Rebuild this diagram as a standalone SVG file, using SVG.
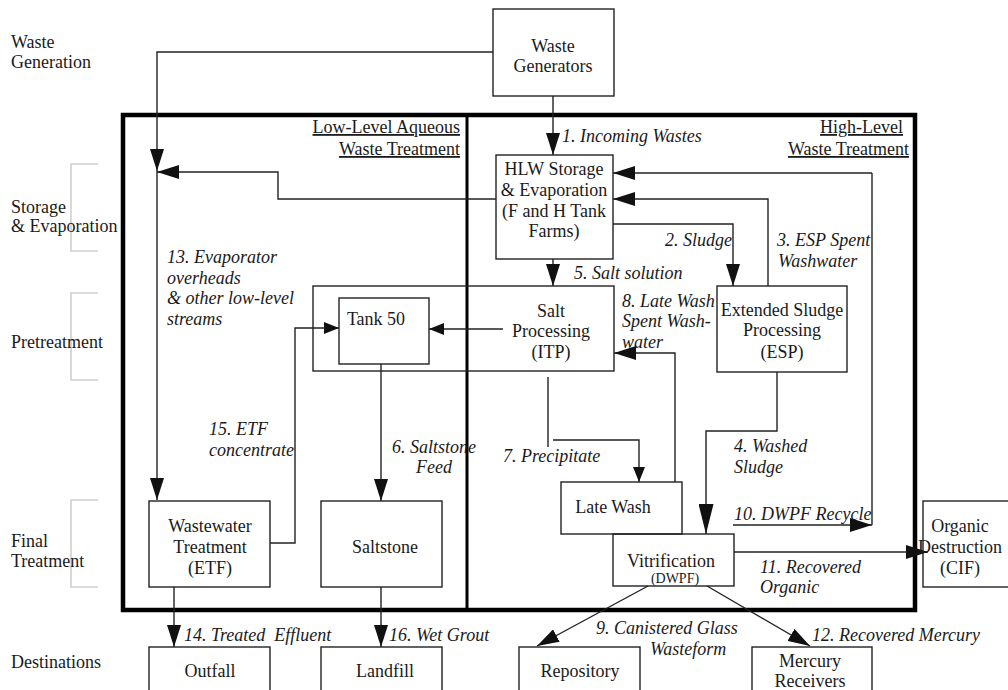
<svg xmlns="http://www.w3.org/2000/svg" width="1008" height="690" viewBox="0 0 1008 690">
<style>
text{font-family:'Liberation Serif',Tinos,'Times New Roman','DejaVu Serif',serif;font-size:18px;fill:#1a1a1a}
.c{text-anchor:middle}
.i{font-style:italic}
.u{text-decoration:underline;text-anchor:end}
.box{fill:none;stroke:#222;stroke-width:1.4}
.ln{fill:none;stroke:#222;stroke-width:1.4}
.br{fill:none;stroke:#cfcfcf;stroke-width:1.6}
</style>
<defs>
<marker id="a" markerUnits="userSpaceOnUse" markerWidth="22" markerHeight="14" viewBox="0 0 22 14" refX="22" refY="7" orient="auto"><path d="M0,0 L22,7 L0,14 z" fill="#111"/></marker>
<marker id="s" markerUnits="userSpaceOnUse" markerWidth="15" markerHeight="12" viewBox="0 0 15 12" refX="15" refY="6" orient="auto"><path d="M0,0 L15,6 L0,12 z" fill="#111"/></marker>
<marker id="b" markerUnits="userSpaceOnUse" markerWidth="30" markerHeight="15" viewBox="0 0 30 15" refX="30" refY="7.5" orient="auto"><path d="M0,0 L30,7.5 L0,15 z" fill="#111"/></marker>
</defs>
<rect width="1008" height="690" fill="#fff"/>

<g id="stages">
<text x="11" y="48">Waste</text>
<text x="11" y="68">Generation</text>
<path class="br" d="M98,164 H71 V251 H98"/>
<text x="11" y="213">Storage</text>
<text x="11" y="232">&amp; Evaporation</text>
<path class="br" d="M98,293 H71 V380 H98"/>
<text x="11" y="348">Pretreatment</text>
<path class="br" d="M98,500 H71 V587 H98"/>
<text x="11" y="547">Final</text>
<text x="11" y="567">Treatment</text>
<text x="11" y="668">Destinations</text>
</g>

<g id="frame">
<rect x="123" y="115" width="792" height="495" fill="none" stroke="#000" stroke-width="4.5"/>
<line x1="467" y1="115" x2="467" y2="610" stroke="#000" stroke-width="3"/>
<text class="u" x="460" y="133">Low-Level Aqueous</text>
<text class="u" x="460" y="155">Waste Treatment</text>
<text class="u" x="903" y="133">High-Level</text>
<text class="u" x="909" y="155">Waste Treatment</text>
</g>

<g id="connectors">
<path class="ln" d="M553,96 V155" marker-end="url(#a)"/>
<path class="ln" d="M493,52 H157 V171" marker-end="url(#a)"/>
<path class="ln" d="M157,171 V500" marker-end="url(#a)"/>
<path class="ln" d="M496,199 H278 V172 H157" marker-end="url(#a)"/>
<path class="ln" d="M872,173 H613" marker-end="url(#a)"/>
<path class="ln" d="M872,525 V173"/>
<path class="ln" d="M733,525 H872" marker-end="url(#a)"/>
<path class="ln" d="M768,286 V199 H613" marker-end="url(#a)"/>
<path class="ln" d="M613,224 H733 V286" marker-end="url(#a)"/>
<path class="ln" d="M553,259 V286" marker-end="url(#a)"/>
<path class="ln" d="M503,329 H429" marker-end="url(#s)"/>
<path class="ln" d="M270,543 H295 V328 H339" marker-end="url(#s)"/>
<path class="ln" d="M381,364 V501" marker-end="url(#a)"/>
<path class="ln" d="M548,377 V447"/>
<path class="ln" d="M553,440 H639 V482" marker-end="url(#s)"/>
<path class="ln" d="M675,482 V353 H614" marker-end="url(#a)"/>
<path class="ln" d="M777,372 V431 H706 V534" marker-end="url(#b)"/>
<path class="ln" d="M734,552 H928" marker-end="url(#a)"/>
<path class="ln" d="M648,586 L537,646" marker-end="url(#a)"/>
<path class="ln" d="M707,586 L810,646" marker-end="url(#a)"/>
<path class="ln" d="M174,587 V647" marker-end="url(#a)"/>
<path class="ln" d="M381,587 V647" marker-end="url(#a)"/>
</g>

<g id="labels">
<text class="i" x="562" y="142">1. Incoming Wastes</text>
<text class="i" x="665" y="246">2. Sludge</text>
<text class="i" x="777" y="246">3. ESP Spent</text>
<text class="i" x="778" y="267">Washwater</text>
<text class="i" x="734" y="452">4. Washed</text>
<text class="i" x="734" y="473">Sludge</text>
<text class="i" x="574" y="279">5. Salt solution</text>
<text class="i" x="392" y="453">6. Saltstone</text>
<text class="i" x="416" y="473">Feed</text>
<text class="i" x="503" y="462">7. Precipitate</text>
<text class="i" x="622" y="307">8. Late Wash</text>
<text class="i" x="622" y="327">Spent Wash-</text>
<text class="i" x="622" y="348">water</text>
<text class="i" x="596" y="634">9. Canistered Glass</text>
<text class="i" x="650" y="655">Wasteform</text>
<text class="i" x="734" y="520">10. DWPF Recycle</text>
<text class="i" x="760" y="573">11. Recovered</text>
<text class="i" x="760" y="593">Organic</text>
<text class="i" x="812" y="641">12. Recovered Mercury</text>
<text class="i" x="167" y="263">13. Evaporator</text>
<text class="i" x="167" y="284">overheads</text>
<text class="i" x="167" y="304">&amp; other low-level</text>
<text class="i" x="167" y="325">streams</text>
<text class="i" x="184" y="641" xml:space="preserve">14. Treated  Effluent</text>
<text class="i" x="209" y="435">15. ETF</text>
<text class="i" x="209" y="456">concentrate</text>
<text class="i" x="389" y="641">16. Wet Grout</text>
</g>

<g id="waste-generators">
<rect class="box" x="493" y="9" width="121" height="87"/>
<text class="c" x="553" y="52">Waste</text>
<text class="c" x="553" y="72">Generators</text>
</g>
<g id="hlw-storage">
<rect class="box" x="496" y="155" width="117" height="104"/>
<text class="c" x="554" y="175">HLW Storage</text>
<text class="c" x="554" y="196">&amp; Evaporation</text>
<text class="c" x="554" y="217">(F and H Tank</text>
<text class="c" x="554" y="237">Farms)</text>
</g>
<g id="salt-processing">
<rect class="box" x="313" y="286" width="301" height="85"/>
<text class="c" x="551" y="317">Salt</text>
<text class="c" x="551" y="337">Processing</text>
<text class="c" x="551" y="358">(ITP)</text>
</g>
<g id="tank-50">
<rect class="box" x="339" y="298" width="90" height="66"/>
<text class="c" x="376" y="325">Tank 50</text>
</g>
<g id="esp">
<rect class="box" x="717" y="286" width="130" height="86"/>
<text class="c" x="782" y="316">Extended Sludge</text>
<text class="c" x="782" y="336">Processing</text>
<text class="c" x="782" y="358">(ESP)</text>
</g>
<g id="etf">
<rect class="box" x="149" y="501" width="121" height="86"/>
<text class="c" x="210" y="532">Wastewater</text>
<text class="c" x="210" y="553">Treatment</text>
<text class="c" x="210" y="574">(ETF)</text>
</g>
<g id="saltstone">
<rect class="box" x="321" y="501" width="121" height="86"/>
<text class="c" x="385" y="553">Saltstone</text>
</g>
<g id="late-wash">
<rect class="box" x="561" y="482" width="121" height="52"/>
<text class="c" x="613" y="513">Late Wash</text>
</g>
<g id="vitrification">
<rect class="box" x="613" y="534" width="121" height="52"/>
<text class="c" x="671" y="567">Vitrification</text>
<text class="c" x="675" y="583" style="font-size:14px">(DWPF)</text>
</g>
<g id="organic-destruction">
<rect class="box" x="923" y="501" width="100" height="86"/>
<text class="c" x="960" y="532">Organic</text>
<text class="c" x="960" y="553">Destruction</text>
<text class="c" x="960" y="574">(CIF)</text>
</g>
<g id="outfall">
<rect class="box" x="149" y="647" width="121" height="60"/>
<text class="c" x="210" y="677">Outfall</text>
</g>
<g id="landfill">
<rect class="box" x="321" y="647" width="121" height="60"/>
<text class="c" x="385" y="677">Landfill</text>
</g>
<g id="repository">
<rect class="box" x="519" y="647" width="121" height="60"/>
<text class="c" x="580" y="677">Repository</text>
</g>
<g id="mercury-receivers">
<rect class="box" x="752" y="647" width="120" height="60"/>
<text class="c" x="810" y="667">Mercury</text>
<text class="c" x="810" y="687">Receivers</text>
</g>
</svg>
